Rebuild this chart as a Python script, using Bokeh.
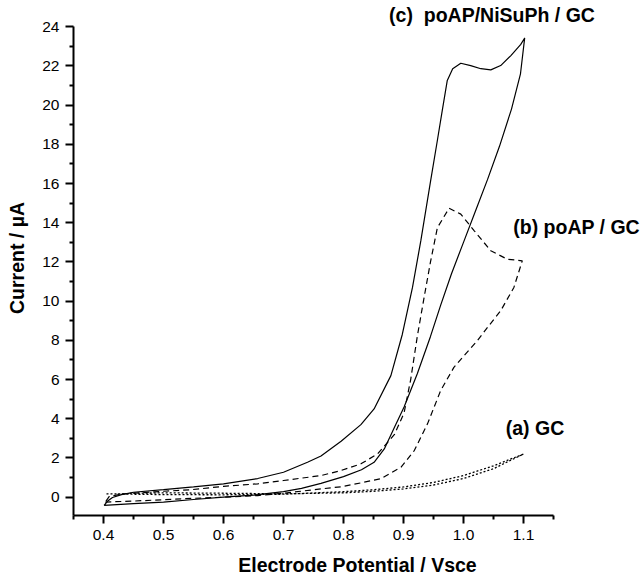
from bokeh.plotting import figure
from bokeh.models import Range1d, FixedTicker, NumeralTickFormatter, Label
from bokeh.core.properties import value
from bokeh.embed import file_html
from bokeh.resources import INLINE

# ---- data ----
# (c) poAP/NiSuPh / GC  (solid) : forward then reverse scan
c_x = [0.401, 0.45, 0.50, 0.55, 0.60, 0.65, 0.70, 0.73, 0.7625, 0.80, 0.83, 0.851, 0.868, 0.885,
       0.901, 0.923, 0.945, 0.962, 0.98, 1.0, 1.02, 1.04, 1.06, 1.08, 1.095, 1.102,
       1.0955, 1.079, 1.062, 1.0455, 1.029, 1.012, 0.9955, 0.982, 0.973, 0.965, 0.957, 0.945,
       0.929, 0.915, 0.898, 0.879, 0.851, 0.829, 0.796, 0.7625, 0.74, 0.70, 0.657, 0.60, 0.55,
       0.50, 0.45, 0.43, 0.415, 0.407, 0.401]
c_y = [-0.42, -0.33, -0.25, -0.12, 0.0, 0.1, 0.28, 0.45, 0.7, 1.05, 1.4, 1.78, 2.46, 3.57,
       4.6, 6.3, 8.2, 9.8, 11.4, 13.0, 14.6, 16.2, 17.9, 19.8, 21.6, 23.43,
       23.1, 22.53, 22.02, 21.8, 21.86, 22.02, 22.14, 21.86, 21.26, 19.8, 18.3, 16.1,
       13.1, 10.7, 8.3, 6.2, 4.5, 3.7, 2.85, 2.1, 1.78, 1.27, 0.95, 0.68, 0.52,
       0.38, 0.25, 0.13, -0.02, -0.2, -0.42]

# (b) poAP / GC  (dashed)
b_x = [0.403, 0.45, 0.50, 0.55, 0.60, 0.657, 0.70, 0.7625, 0.796, 0.818, 0.862, 0.896, 0.918,
       0.94, 0.962, 0.984, 1.001, 1.023, 1.04, 1.062, 1.084, 1.098,
       1.073, 1.0455, 1.018, 0.9955, 0.976, 0.9565, 0.945, 0.935, 0.923, 0.912,
       0.901, 0.885, 0.857, 0.829, 0.796, 0.7625, 0.70, 0.657, 0.60, 0.546, 0.50, 0.434, 0.41,
       0.403]
b_y = [-0.25, -0.2, -0.13, -0.06, 0.0, 0.08, 0.2, 0.42, 0.53, 0.66, 0.94, 1.53, 2.38,
       3.74, 5.44, 6.62, 7.22, 7.98, 8.66, 9.51, 10.7, 12.06,
       12.14, 12.57, 13.59, 14.44, 14.74, 13.75, 12.0, 10.3, 8.2, 6.0,
       4.3, 3.2, 2.21, 1.70, 1.36, 1.1, 0.85, 0.68, 0.55, 0.38, 0.3, 0.17, 0.05,
       -0.25]

# (a) GC  (dotted)
a_x = [0.405, 0.45, 0.50, 0.60, 0.70, 0.80, 0.85, 0.90, 0.95, 1.00, 1.05, 1.10,
       1.05, 1.00, 0.95, 0.90, 0.85, 0.80, 0.70, 0.60, 0.50, 0.45, 0.42]
a_y = [0.17, 0.15, 0.13, 0.12, 0.15, 0.28, 0.38, 0.52, 0.75, 1.1, 1.6, 2.2,
       1.45, 0.95, 0.62, 0.42, 0.3, 0.22, 0.17, 0.2, 0.22, 0.2, 0.15]

x_ticks = [0.4, 0.5, 0.6, 0.7, 0.8, 0.9, 1.0, 1.1]
x_minor = [0.35, 0.45, 0.55, 0.65, 0.75, 0.85, 0.95, 1.05, 1.15]
y_ticks = [0, 2, 4, 6, 8, 10, 12, 14, 16, 18, 20, 22, 24]
y_minor = [1, 3, 5, 7, 9, 11, 13, 15, 17, 19, 21, 23]

label_text = ["(c)\u00a0 poAP/NiSuPh / GC", "(b) poAP / GC", "(a) GC"]
label_x = [0.876, 1.083, 1.0705]
label_y = [24.6, 13.79, 3.55]

FONT = "Liberation Sans"

p = figure(width=641, height=578, output_backend="svg", toolbar_location=None,
           x_range=Range1d(0.35, 1.2967), y_range=Range1d(-0.936, 25.34),
           min_border_left=73, min_border_right=0, min_border_top=0, min_border_bottom=61)
p.outline_line_color = None
p.xgrid.visible = False
p.ygrid.visible = False

p.line(c_x, c_y, line_color="black", line_width=1.2)
p.line(b_x, b_y, line_color="black", line_width=1.2, line_dash="6 4")
p.line(a_x, a_y, line_color="black", line_width=1.3, line_dash="2 2")

for ax in (p.xaxis[0], p.yaxis[0]):
    ax.axis_line_width = 2
    ax.major_tick_line_width = 2
    ax.minor_tick_line_width = 2
    ax.major_tick_in = 0
    ax.major_tick_out = 8
    ax.minor_tick_in = 0
    ax.minor_tick_out = 4
    ax.major_label_text_font = FONT
    ax.major_label_text_font_size = "15.5px"
    ax.major_label_text_color = "black"
    ax.axis_label_text_font = FONT
    ax.axis_label_text_font_size = "19.5px"
    ax.axis_label_text_font_style = "bold"
    ax.axis_label_text_color = "black"

p.xaxis.ticker = FixedTicker(ticks=x_ticks, minor_ticks=x_minor)
p.yaxis.ticker = FixedTicker(ticks=y_ticks, minor_ticks=y_minor)
p.xaxis.formatter = NumeralTickFormatter(format="0.0")
p.yaxis.formatter = NumeralTickFormatter(format="0")
p.xaxis.bounds = (0.35, 1.15)
p.yaxis.bounds = (-0.936, 24)
p.xaxis.axis_label = "Electrode Potential / Vsce"
p.yaxis.axis_label = "Current / \u00b5A"
p.xaxis.major_label_standoff = 6
p.yaxis.major_label_standoff = 6
p.xaxis.axis_label_standoff = 11
p.yaxis.axis_label_standoff = 11

for t, lx, ly in zip(label_text, label_x, label_y):
    p.add_layout(Label(x=lx, y=ly, text=t, text_font=FONT, text_font_size="19.5px",
                       text_font_style="bold", text_baseline="middle", text_align="left",
                       text_color="black"))

open("out.html", "w").write(file_html(p, INLINE))
